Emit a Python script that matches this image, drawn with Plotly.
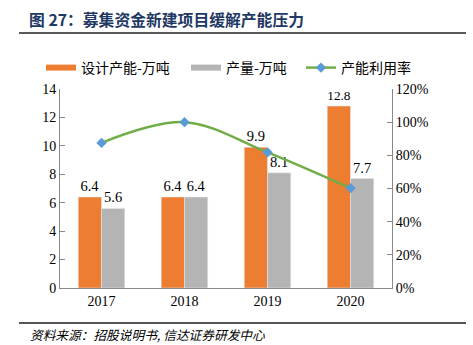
import plotly.graph_objects as go

# Data
years = ["2017", "2018", "2019", "2020"]
capacity = [6.4, 6.4, 9.9, 12.8]          # 设计产能-万吨
output = [5.6, 6.4, 8.1, 7.7]             # 产量-万吨
utilization = [0.875, 1.00, 0.818, 0.602]  # 产能利用率

W, H = 473, 345
L, R, T, B = 60, 81, 89, 57
PW, PH = W - L - R, H - T - B


def px(x):
    return (x - L) / PW


def py(y):
    return (H - B - y) / PH


serif = "Liberation Serif, Times New Roman, serif"
cjk = "Noto Sans CJK SC, sans-serif"
ORANGE, GREY, GREEN, BLUE = "#ED7D31", "#B4B4B4", "#70AD47", "#5B9BD5"

fig = go.Figure()
fig.add_trace(go.Bar(
    x=years, y=capacity, name="设计产能-万吨", showlegend=False,
    marker=dict(color=ORANGE),
    text=[f"{v:.1f}" for v in capacity], textposition="outside",
    textfont=dict(family=serif, size=14.5, color="#000"), cliponaxis=False,
))
fig.add_trace(go.Bar(
    x=years, y=output, name="产量-万吨", showlegend=False,
    marker=dict(color=GREY),
    text=[f"{v:.1f}" for v in output], textposition="outside",
    textfont=dict(family=serif, size=14.5, color="#000"), cliponaxis=False,
))
fig.add_trace(go.Scatter(
    x=years, y=utilization, name="产能利用率", yaxis="y2", legend="legend3",
    mode="lines+markers", line=dict(color=GREEN, width=2.5, shape="spline"),
    marker=dict(symbol="diamond", color=BLUE, size=8),
))
# Wide flat legend keys for the two bar series
fig.add_trace(go.Scatter(x=[None], y=[None], mode="lines", name="设计产能-万吨",
                         line=dict(color=ORANGE, width=6), legend="legend"))
fig.add_trace(go.Scatter(x=[None], y=[None], mode="lines", name="产量-万吨",
                         line=dict(color=GREY, width=6), legend="legend2"))


def legend_at(x):
    return dict(orientation="h", xref="container", yref="container",
                x=x / W, y=1 - 68 / H, xanchor="left", yanchor="middle",
                font=dict(family=cjk, size=14, color="#000"),
                bgcolor="rgba(0,0,0,0)", borderwidth=0)


fig.update_layout(
    width=W, height=H,
    margin=dict(l=L, r=R, t=T, b=B, autoexpand=False),
    plot_bgcolor="white", paper_bgcolor="white",
    barmode="group", bargap=0.44, bargroupgap=0,
    xaxis=dict(showline=True, linecolor="#898989", linewidth=1, ticks="",
               tickfont=dict(family=serif, size=14, color="#000")),
    yaxis=dict(range=[0, 14], dtick=2, showgrid=False, showline=True,
               linecolor="#898989", ticks="inside", ticklen=5, tickcolor="#898989",
               tickfont=dict(family=serif, size=14, color="#000"), zeroline=False),
    yaxis2=dict(range=[0, 1.2], dtick=0.2, tickformat=".0%", overlaying="y", side="right",
                showgrid=False, showline=True, linecolor="#898989", ticks="inside",
                ticklen=5, tickcolor="#898989",
                tickfont=dict(family=serif, size=14, color="#000"), zeroline=False),
    legend=legend_at(41),
    legend2=legend_at(186),
    legend3=legend_at(301),
    showlegend=True,
)

# Header and footer
fig.add_annotation(text="<b>图 27：募集资金新建项目缓解产能压力</b>",
                   xref="paper", yref="paper", x=px(27), y=py(19),
                   xanchor="left", yanchor="middle", showarrow=False,
                   font=dict(family=cjk, size=15.8, color="#1F3864"))
fig.add_shape(type="line", xref="paper", yref="paper",
              x0=px(19), x1=px(466), y0=py(33), y1=py(33),
              line=dict(color="#222", width=1.5))
fig.add_shape(type="line", xref="paper", yref="paper",
              x0=px(19), x1=px(466), y0=py(323), y1=py(323),
              line=dict(color="#555", width=2))
fig.add_annotation(text="<i>资料来源：招股说明书, 信达证券研发中心</i>",
                   xref="paper", yref="paper", x=px(28), y=py(334),
                   xanchor="left", yanchor="middle", showarrow=False,
                   font=dict(family=cjk, size=12.7, color="#000"))

fig.write_html("out.html")
